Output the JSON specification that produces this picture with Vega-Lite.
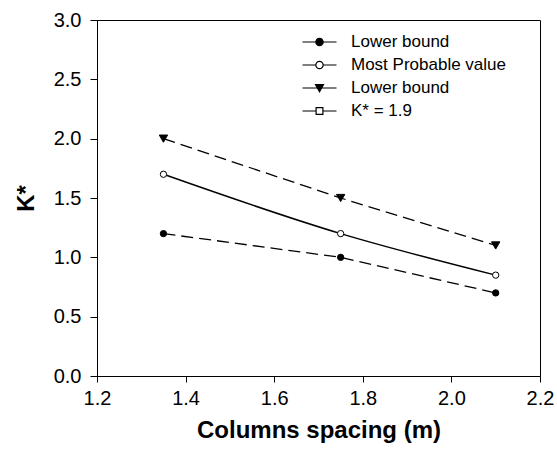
{
  "$schema": "https://vega.github.io/schema/vega-lite/v6.json",
  "width": 443,
  "height": 356,
  "autosize": "none",
  "padding": {"left": 97, "top": 20, "right": 17, "bottom": 74},
  "background": "white",
  "config": {
    "font": "Liberation Sans",
    "view": {"stroke": "black", "strokeWidth": 1},
    "axis": {
      "grid": false,
      "domainColor": "black",
      "tickColor": "black",
      "labelColor": "black",
      "titleColor": "black",
      "labelFont": "Liberation Sans",
      "titleFont": "Liberation Sans",
      "labelFontSize": 20,
      "titleFontSize": 24,
      "titleFontWeight": "bold",
      "labelFlush": false,
      "labelOverlap": false
    }
  },
  "datasets": {
    "pts": [
      {"s": "lo", "x": 1.35, "k": 1.2},
      {"s": "lo", "x": 1.75, "k": 1.0},
      {"s": "lo", "x": 2.1, "k": 0.7},
      {"s": "mp", "x": 1.35, "k": 1.7},
      {"s": "mp", "x": 1.75, "k": 1.2},
      {"s": "mp", "x": 2.1, "k": 0.85},
      {"s": "up", "x": 1.35, "k": 2.0},
      {"s": "up", "x": 1.75, "k": 1.5},
      {"s": "up", "x": 2.1, "k": 1.1}
    ]
  },
  "data": {"name": "pts"},
  "encoding": {
    "x": {
      "field": "x",
      "type": "quantitative",
      "scale": {"domain": [1.2, 2.2], "nice": false, "zero": false},
      "axis": {
        "title": "Columns spacing (m)",
        "values": [1.2, 1.4, 1.6, 1.8, 2.0, 2.2],
        "format": ".1f",
        "tickSize": 6,
        "labelPadding": 6,
        "titlePadding": 10
      }
    },
    "y": {
      "field": "k",
      "type": "quantitative",
      "scale": {"domain": [0, 3], "nice": false},
      "axis": {
        "title": "K*",
        "values": [0, 0.5, 1.0, 1.5, 2.0, 2.5, 3.0],
        "format": ".1f",
        "tickSize": 7,
        "labelPadding": 9,
        "titlePadding": 15
      }
    }
  },
  "layer": [
    {
      "transform": [{"filter": "datum.s != 'mp'"}],
      "mark": {"type": "line", "color": "black", "strokeWidth": 1.3, "strokeDash": [12, 6]},
      "encoding": {"detail": {"field": "s"}}
    },
    {
      "transform": [{"filter": "datum.s == 'mp'"}],
      "mark": {"type": "line", "color": "black", "strokeWidth": 1.5, "interpolate": "monotone"},
      "encoding": {}
    },
    {
      "transform": [{"filter": "datum.s != 'up'"}],
      "mark": {"type": "point", "shape": "circle", "size": 40, "stroke": "black", "strokeWidth": 1, "opacity": 1},
      "encoding": {
        "fill": {"condition": {"test": "datum.s == 'mp'", "value": "white"}, "value": "black"}
      }
    },
    {
      "transform": [{"filter": "datum.s == 'up'"}],
      "mark": {"type": "point", "shape": "triangle-down", "size": 70, "fill": "black", "stroke": "black", "strokeWidth": 1, "opacity": 1},
      "encoding": {}
    },
    {
      "transform": [{"filter": "false"}],
      "mark": {"type": "point", "stroke": "black", "strokeWidth": 1.2, "opacity": 1},
      "encoding": {
        "shape": {
          "field": "s",
          "type": "nominal",
          "scale": {
            "domain": ["a", "b", "c", "d"],
            "range": [
              "M-2,0H2M-0.43,0A0.43,0.43,0,1,1,0.43,0A0.43,0.43,0,1,1,-0.43,0Z",
              "M-2,0H-0.43M0.43,0H2M-0.43,0A0.43,0.43,0,1,1,0.43,0A0.43,0.43,0,1,1,-0.43,0Z",
              "M-2,0H2M-0.47,-0.4L0.47,-0.4L0,0.45Z",
              "M-2,0H-0.4M0.4,0H2M-0.4,-0.4H0.4V0.4H-0.4Z"
            ]
          },
          "legend": {
            "title": null,
            "orient": "none",
            "legendX": 213,
            "legendY": 12.5,
            "padding": 0,
            "symbolSize": 289,
            "symbolStrokeColor": "black",
            "symbolStrokeWidth": 1.2,
            "symbolOpacity": 1,
            "labelFont": "Liberation Sans",
            "labelFontSize": 17,
            "labelColor": "black",
            "labelOffset": 22,
            "rowPadding": 5,
            "labelExpr": "datum.label == 'a' ? 'Lower bound' : datum.label == 'b' ? 'Most Probable value' : datum.label == 'c' ? 'Lower bound' : 'K* = 1.9'",
            "encode": {"symbols": {"update": {"stroke": {"value": "black"}, "strokeWidth": {"value": 1.2}, "opacity": {"value": 1}}}}
          }
        },
        "fill": {
          "field": "s",
          "type": "nominal",
          "scale": {"domain": ["a", "b", "c", "d"], "range": ["black", "white", "black", "white"]},
          "legend": {
            "title": null,
            "orient": "none",
            "legendX": 213,
            "legendY": 12.5,
            "padding": 0,
            "symbolSize": 289,
            "symbolStrokeColor": "black",
            "symbolStrokeWidth": 1.2,
            "symbolOpacity": 1,
            "labelFont": "Liberation Sans",
            "labelFontSize": 17,
            "labelColor": "black",
            "labelOffset": 22,
            "rowPadding": 5,
            "labelExpr": "datum.label == 'a' ? 'Lower bound' : datum.label == 'b' ? 'Most Probable value' : datum.label == 'c' ? 'Lower bound' : 'K* = 1.9'",
            "encode": {"symbols": {"update": {"stroke": {"value": "black"}, "strokeWidth": {"value": 1.2}, "opacity": {"value": 1}}}}
          }
        }
      }
    }
  ]
}
